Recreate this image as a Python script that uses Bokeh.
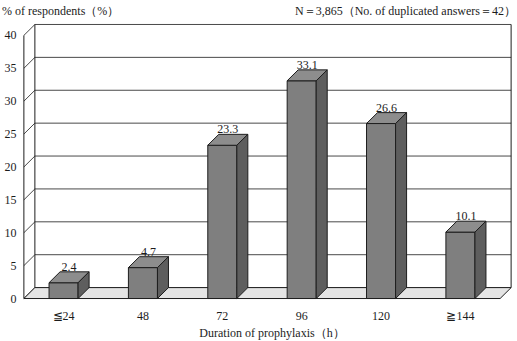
from bokeh.plotting import figure
from bokeh.models import Range1d, FixedTicker, Div
from bokeh.layouts import column
from bokeh.core.properties import value
from bokeh.embed import file_html
from bokeh.resources import INLINE

# Survey results: duration of antimicrobial prophylaxis
categories = ["≦24", "48", "72", "96", "120", "≧144"]
percent = [2.4, 4.7, 23.3, 33.1, 26.6, 10.1]
y_ticks = [0, 5, 10, 15, 20, 25, 30, 35, 40]

y_title = "% of respondents（%）"
note = "N＝3,865（No. of duplicated answers＝42）"
x_title = "Duration of prophylaxis（h）"

FONT = "Liberation Serif"
FS = "12px"
FS_TITLE = "12px"
INK = "#1c1c1c"

# depth of the pseudo-3D box, in data units (x: categories, y: percent)
DX = 0.1387
DY = 1.66
BAR_W = 0.366
N = len(categories)
Y_MAX = y_ticks[-1]

W = 517
HEAD_H, FOOT_H = 22, 16
PLOT_H = 341 - HEAD_H - FOOT_H

TEXT_CSS = (f"font-family:'{FONT}',serif;font-size:{FS_TITLE};color:{INK};"
            f"white-space:nowrap;box-sizing:border-box;width:{W}px;")

header = Div(
    text=(f'<div style="{TEXT_CSS}display:flex;justify-content:space-between;'
          f'line-height:{HEAD_H}px;padding:0 1px 0 2px">'
          f'<span>{y_title}</span><span>{note}</span></div>'),
    width=W, height=HEAD_H, margin=(0, 0, 0, 0))

footer = Div(
    text=(f'<div style="{TEXT_CSS}text-align:center;'
          f'line-height:{FOOT_H}px;padding-left:27px">{x_title}</div>'),
    width=W, height=FOOT_H, margin=(0, 0, 0, 0))

p = figure(
    width=W, height=PLOT_H,
    x_range=Range1d(-0.03, N + DX + 0.03),
    y_range=Range1d(-0.3, Y_MAX + DY + 0.3),
    min_border_left=21, min_border_right=4,
    min_border_top=0, min_border_bottom=PLOT_H - 280,
    output_backend="svg", toolbar_location=None,
    margin=(0, 0, 0, 0),
)
p.outline_line_color = None
p.xgrid.visible = False
p.ygrid.visible = False
p.background_fill_color = "white"
p.border_fill_color = "white"

# value axis
p.yaxis.ticker = FixedTicker(ticks=y_ticks)
p.yaxis.axis_line_color = None
p.yaxis.major_tick_line_color = None
p.yaxis.minor_tick_line_color = None
p.yaxis.major_tick_out = 0
p.yaxis.major_label_standoff = 5
p.yaxis.major_label_text_font = FONT
p.yaxis.major_label_text_font_size = FS
p.yaxis.major_label_text_color = INK

# category axis
centers = [i + 0.5 for i in range(N)]
p.xaxis.ticker = FixedTicker(ticks=centers)
p.xaxis.major_label_overrides = {c: lab for c, lab in zip(centers, categories)}
p.xaxis.axis_line_color = None
p.xaxis.major_tick_line_color = None
p.xaxis.minor_tick_line_color = None
p.xaxis.major_tick_out = 0
p.xaxis.major_label_standoff = 8
p.xaxis.major_label_text_font = FONT
p.xaxis.major_label_text_font_size = FS
p.xaxis.major_label_text_color = INK

GRID = "#4a4a4a"
EDGE = "#1e1e1e"

# back wall gridlines
p.segment(x0=[DX] * len(y_ticks), y0=[t + DY for t in y_ticks],
          x1=[N + DX] * len(y_ticks), y1=[t + DY for t in y_ticks],
          line_color=GRID, line_width=1)
# side wall diagonals
p.segment(x0=[0] * len(y_ticks), y0=y_ticks,
          x1=[DX] * len(y_ticks), y1=[t + DY for t in y_ticks],
          line_color=GRID, line_width=1)
# wall edges
p.segment(x0=[0, DX, N + DX], y0=[0, DY, DY],
          x1=[0, DX, N + DX], y1=[Y_MAX, Y_MAX + DY, Y_MAX + DY],
          line_color=EDGE, line_width=1)

# floor
p.patch(x=[0, N, N + DX, DX], y=[0, 0, DY, DY],
        fill_color="#e4e4e4", line_color=EDGE, line_width=1)

# bars: front, top and side faces
lefts = [c - BAR_W / 2 for c in centers]
rights = [c + BAR_W / 2 for c in centers]
p.quad(left=lefts, right=rights, bottom=0, top=percent,
       fill_color="#7f7f7f", line_color=EDGE, line_width=1)
p.patches(
    xs=[[l, r, r + DX, l + DX] for l, r in zip(lefts, rights)],
    ys=[[v, v, v + DY, v + DY] for v in percent],
    fill_color="#8d8d8d", line_color=EDGE, line_width=1)
p.patches(
    xs=[[r, r + DX, r + DX, r] for r in rights],
    ys=[[0, DY, v + DY, v] for v in percent],
    fill_color="#5e5e5e", line_color=EDGE, line_width=1)

# value labels above each bar
p.text(x=[c + DX / 2 for c in centers], y=[v + DY for v in percent],
       text=[f"{v:.1f}" for v in percent],
       text_align="center", text_baseline="bottom", y_offset=-1,
       text_font=value(FONT), text_font_size=FS, text_color=INK)

layout = column(header, p, footer, spacing=0, margin=(0, 0, 0, 0))
open("out.html", "w").write(file_html(layout, INLINE))
